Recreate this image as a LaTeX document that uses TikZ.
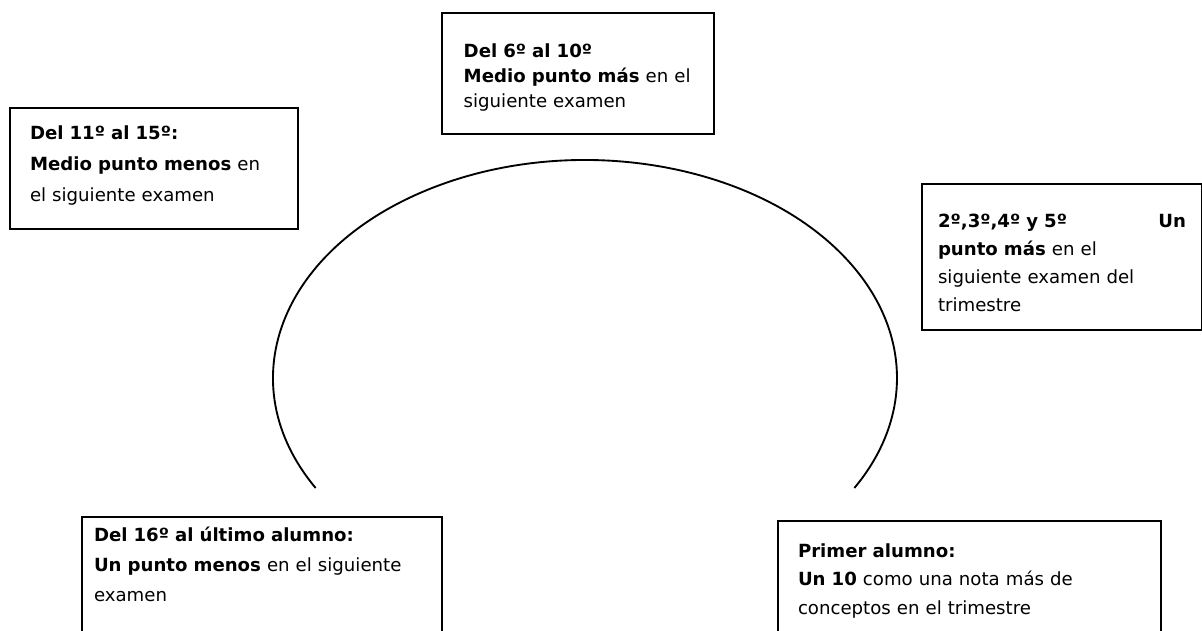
\documentclass[tikz,border=0pt]{standalone}
\usepackage{fontspec}
\setmainfont{DejaVu Sans}

\tikzset{every picture/.style={line width=0.75pt}}
\tikzset{notebox/.style={draw, line width=1.5pt, anchor=north west, align=left, inner ysep=0pt}}
\tikzset{ringline/.style={line width=1.4pt}}

\begin{document}
\begin{tikzpicture}[x=0.75pt,y=0.75pt,yscale=-1,xscale=1]
	\useasboundingbox (0,0) rectangle (1202,631);

	%Arc
	\coordinate (hub) at (585,378);
	\draw [ringline] (hub) ++(149.7:312 and 218) arc [start angle=149.7, end angle=390.3, x radius=312, y radius=218];

	% Text Node
	\node [notebox, inner xsep=15pt, text width=186pt, text height=24pt, text depth=66.75pt, font=\fontsize{13.6}{23}\selectfont] (down15) at (9,107)
	{\textbf{Del 11º al 15º:}\\\textbf{Medio punto menos} en\\el siguiente examen};
	% Text Node
	\node [notebox, inner xsep=16.3pt, text width=171.4pt, text height=33.75pt, text depth=57pt, font=\fontsize{13.6}{18.5}\selectfont] (up10) at (441,12)
	{\textbf{Del 6º al 10º}\\\textbf{Medio punto más} en el\\siguiente examen};
	% Text Node
	\node [notebox, inner xsep=12pt, text width=186pt, text height=32.25pt, text depth=77.25pt, font=\fontsize{13.6}{21}\selectfont] (up5) at (921,183)
	{\textbf{2º,3º,4º y 5º} \hfill \textbf{Un}\\\textbf{punto más} en el\\siguiente examen del\\trimestre};
	% Text Node
	\node [notebox, inner xsep=9pt, text width=252pt, text height=18pt, text depth=90pt, font=\fontsize{13.6}{22.5}\selectfont] (last) at (81,516)
	{\textbf{Del 16º al último alumno:}\\\textbf{Un punto menos} en el siguiente\\examen};
	% Text Node
	\node [notebox, inner xsep=15pt, text width=257.25pt, text height=27pt, text depth=78pt, font=\fontsize{13.6}{21.4}\selectfont] (first) at (777,520)
	{\textbf{Primer alumno:}\\\textbf{Un 10} como una nota más de\\conceptos en el trimestre};

\end{tikzpicture}
\end{document}
